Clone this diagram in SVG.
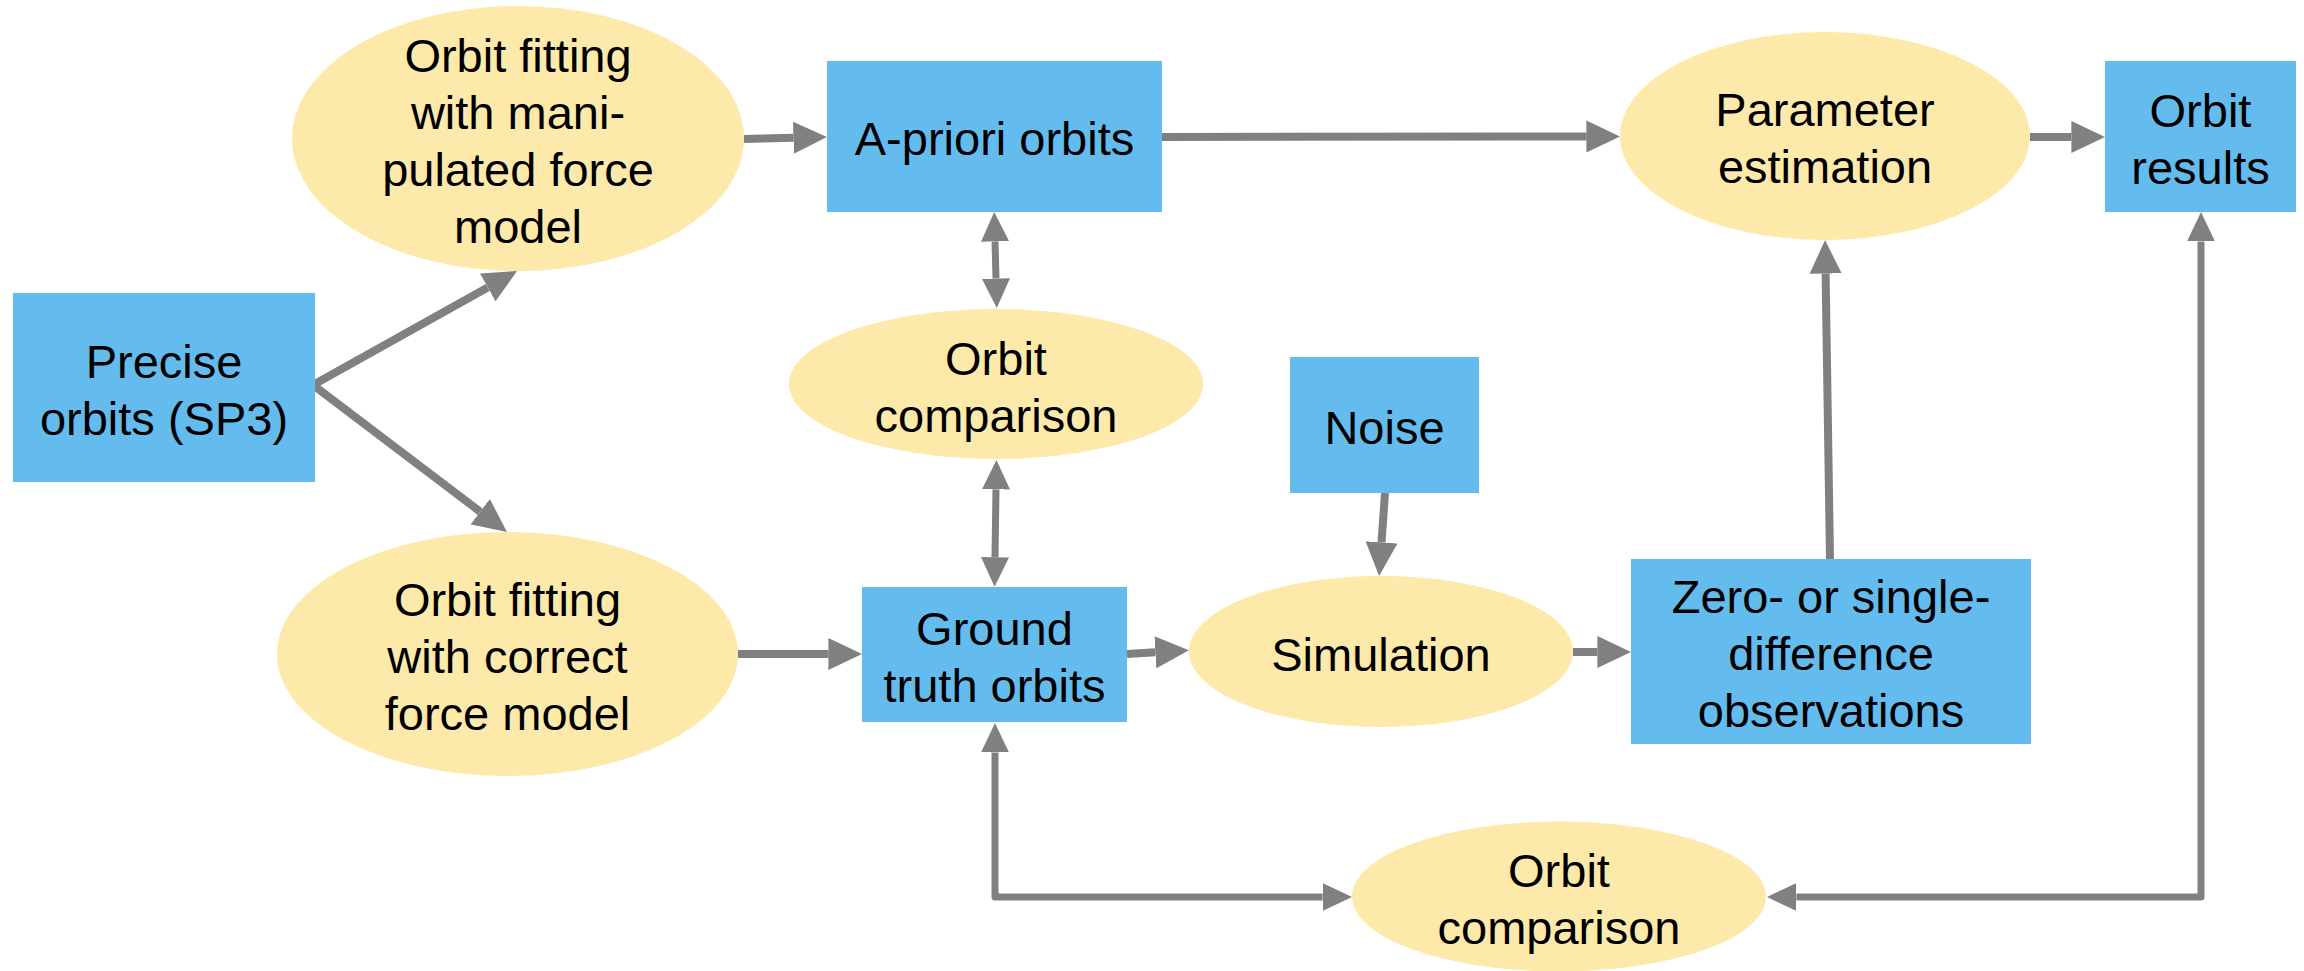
<svg xmlns="http://www.w3.org/2000/svg" width="2304" height="971" viewBox="0 0 2304 971">
<style>
.box{fill:#63bbee}
.ell{fill:#fde9a9}
text{font-family:"Liberation Sans",Arial,sans-serif;font-size:47px;fill:#000;text-anchor:middle}
.c{fill:none;stroke:#808080;stroke-linejoin:round}
.w8{stroke-width:8}
.w7{stroke-width:7}
.end{marker-end:url(#ah)}
.both{marker-start:url(#ah);marker-end:url(#ah)}
</style>
<defs>
<marker id="ah" viewBox="0 0 4.2 4" refX="0" refY="2" markerWidth="4.2" markerHeight="4" markerUnits="strokeWidth" orient="auto-start-reverse">
<path d="M0,0 L4.2,2 L0,4 z" fill="#808080"/>
</marker>
</defs>
<rect width="2304" height="971" fill="#fff"/>
<g id="connectors">
<path class="c w8 end" d="M744,139 L793.4,137.8"/>
<path class="c w8 end" d="M1162,137 L1586.4,136.5"/>
<path class="c w8 end" d="M2030,137 L2071.4,137"/>
<path class="c w8 end" d="M313,385 L487.7,287.4"/>
<path class="c w8 end" d="M313,385 L480.2,511.7"/>
<path class="c w7 both" d="M995,241.4 L996,278.6"/>
<path class="c w7 both" d="M996,489.4 L995,557.3"/>
<path class="c w8 end" d="M738,654 L828.4,654"/>
<path class="c w8 end" d="M1127,654 L1155.4,652.3"/>
<path class="c w8 end" d="M1385,493 L1381.5,542.4"/>
<path class="c w8 end" d="M1573,652 L1597.4,652"/>
<path class="c w8 end" d="M1830,559 L1825.6,273.6"/>
<path class="c w7 both" d="M995,752.4 L995,897 L1322.6,897"/>
<path class="c w7 both" d="M2201,241.4 L2201,897 L1796.4,897"/>
</g>
<g id="n-fit-manip">
<ellipse class="ell" cx="518" cy="138.5" rx="226" ry="132.5"/>
<text x="518" y="72">Orbit fitting</text>
<text x="518" y="129">with mani-</text>
<text x="518" y="186">pulated force</text>
<text x="518" y="243">model</text>
</g>
<g id="n-apriori">
<rect class="box" x="827" y="61" width="335" height="151"/>
<text x="994.5" y="155">A-priori orbits</text>
</g>
<g id="n-param">
<ellipse class="ell" cx="1825" cy="136" rx="205" ry="104"/>
<text x="1825" y="126">Parameter</text>
<text x="1825" y="183">estimation</text>
</g>
<g id="n-results">
<rect class="box" x="2105" y="61" width="191" height="151"/>
<text x="2200.5" y="126.5">Orbit</text>
<text x="2200.5" y="183.5">results</text>
</g>
<g id="n-precise">
<rect class="box" x="13" y="293" width="302" height="189"/>
<text x="164" y="377.5">Precise</text>
<text x="164" y="434.5">orbits (SP3)</text>
</g>
<g id="n-comp1">
<ellipse class="ell" cx="996" cy="384" rx="207" ry="75"/>
<text x="996" y="374.5">Orbit</text>
<text x="996" y="431.5">comparison</text>
</g>
<g id="n-noise">
<rect class="box" x="1290" y="357" width="189" height="136"/>
<text x="1384.5" y="443.5">Noise</text>
</g>
<g id="n-fit-correct">
<ellipse class="ell" cx="507.5" cy="654" rx="230.5" ry="122"/>
<text x="507.5" y="615.5">Orbit fitting</text>
<text x="507.5" y="672.5">with correct</text>
<text x="507.5" y="729.5">force model</text>
</g>
<g id="n-ground">
<rect class="box" x="862" y="587" width="265" height="135"/>
<text x="994.5" y="644.5">Ground</text>
<text x="994.5" y="701.5">truth orbits</text>
</g>
<g id="n-sim">
<ellipse class="ell" cx="1381" cy="651.5" rx="192" ry="75.5"/>
<text x="1381" y="670.5">Simulation</text>
</g>
<g id="n-obs">
<rect class="box" x="1631" y="559" width="400" height="185"/>
<text x="1831" y="613">Zero- or single-</text>
<text x="1831" y="670">difference</text>
<text x="1831" y="727">observations</text>
</g>
<g id="n-comp2">
<ellipse class="ell" cx="1559" cy="896.5" rx="207" ry="75"/>
<text x="1559" y="887">Orbit</text>
<text x="1559" y="944">comparison</text>
</g>
</svg>
